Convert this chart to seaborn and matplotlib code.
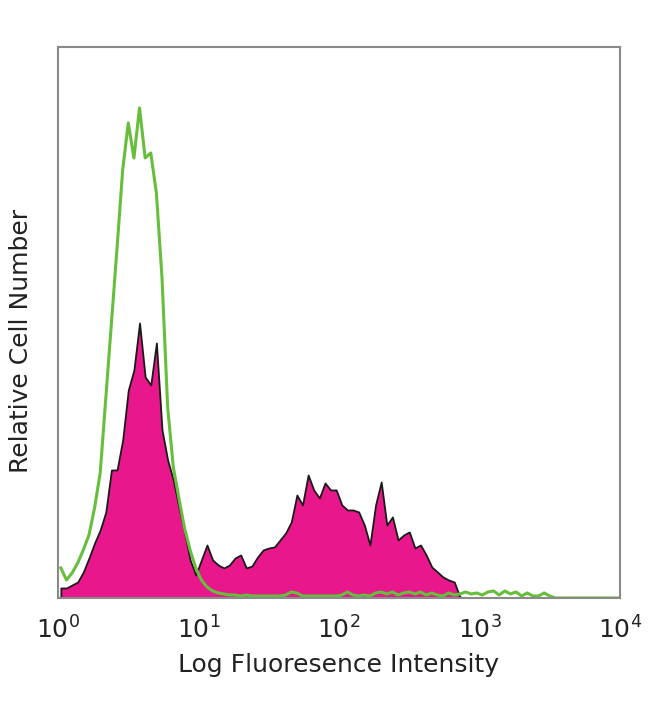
import numpy as np
import matplotlib
matplotlib.use("Agg")
import matplotlib.pyplot as plt
import seaborn as sns

# bin centres in log10 units (width 0.04 decade), heights
log_centers = np.arange(100) * 0.04 + 0.02

stained = [
    10, 10, 13, 16, 26, 40, 55, 68, 86, 128,
    128, 158, 208, 228, 275, 221, 213, 255, 168, 138,
    118, 91, 66, 38, 23, 38, 53, 38, 33, 30,
    33, 40, 43, 30, 32, 41, 48, 50, 51, 58,
    65, 76, 103, 93, 123, 108, 100, 115, 108, 108,
    93, 88, 88, 86, 73, 53, 93, 116, 73, 81,
    58, 63, 66, 50, 53, 43, 31, 26, 21, 18,
    16, 1, 0, 0, 0, 0, 0, 0, 0, 0,
    0, 0, 0, 0, 0, 0, 0, 0, 0, 0,
    0, 0, 0, 0, 0, 0, 0, 0, 0, 0,
]

isotype = [
    30, 18, 25, 35, 48, 63, 90, 125, 200, 275,
    350, 428, 475, 440, 490, 440, 445, 405, 320, 191,
    131, 100, 70, 48, 30, 18, 11, 7, 5, 4,
    3, 3, 2, 3, 2, 2, 2, 2, 2, 2,
    3, 6, 5, 2, 2, 2, 2, 2, 2, 2,
    3, 6, 3, 2, 3, 2, 5, 6, 4, 6,
    3, 5, 6, 4, 6, 3, 5, 3, 2, 5,
    3, 4, 6, 4, 5, 3, 6, 7, 3, 7,
    4, 6, 2, 5, 2, 2, 5, 2, 0, 0,
    0, 0, 0, 0, 0, 0, 0, 0, 0, 0,
]

x_vals = 10 ** log_centers

plt.rcParams["font.family"] = ["DejaVu Sans"]

fig = plt.figure(figsize=(6.5, 7.04), dpi=100)
ax = fig.add_axes([0.0892, 0.1506, 0.8646, 0.7827])

sns.histplot(x=x_vals, weights=stained, log_scale=True, binwidth=0.04,
             binrange=(0, 4), element="poly", fill=True, color="#e8188c",
             alpha=1, edgecolor="#1a1a1a", linewidth=1.3, ax=ax)
sns.histplot(x=x_vals, weights=isotype, log_scale=True, binwidth=0.04,
             binrange=(0, 4), element="poly", fill=False, color="#66be3c",
             linewidth=2.2, ax=ax)

ax.set_xlim(1, 1e4)
ax.set_ylim(0, 551)
ax.set_xticks([1, 10, 100, 1000, 10000])
ax.set_xticklabels([r"$10^{0}$", r"$10^{1}$", r"$10^{2}$", r"$10^{3}$", r"$10^{4}$"])
ax.minorticks_off()
ax.set_yticks([])
ax.tick_params(axis="x", length=0, pad=13, labelsize=18, colors="#222222")
ax.set_xlabel("Log Fluoresence Intensity", fontsize=18, labelpad=7, color="#222222")
ax.set_ylabel("Relative Cell Number", fontsize=18, color="#222222")
ax.yaxis.set_label_coords(-0.045, 0.466)
for s in ax.spines.values():
    s.set_color("#8a8a8a")
    s.set_linewidth(1.5)

fig.savefig("out.png", dpi=100)
